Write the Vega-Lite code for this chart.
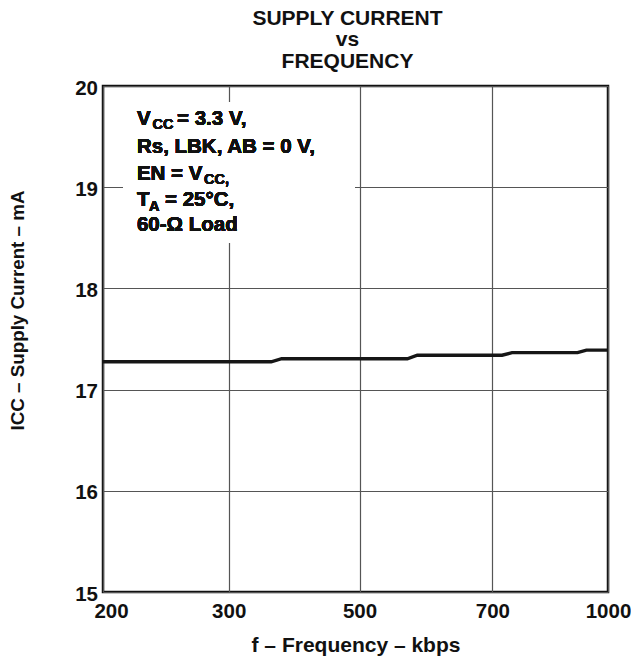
{
  "$schema": "https://vega.github.io/schema/vega-lite/v6.json",
  "autosize": "none",
  "width": 505,
  "height": 506,
  "padding": {"left": 103, "top": 86, "right": 23, "bottom": 68},
  "background": "white",
  "config": {
    "font": "Liberation Sans",
    "view": {"stroke": "#111111", "strokeWidth": 2.5},
    "axis": {"labelFont": "Liberation Sans", "titleFont": "Liberation Sans"}
  },
  "title": {
    "text": ["SUPPLY CURRENT", "vs", "FREQUENCY"],
    "font": "Liberation Sans",
    "fontSize": 21,
    "fontWeight": "bold",
    "color": "#111111",
    "lineHeight": 21.7,
    "anchor": "middle",
    "frame": "group",
    "offset": 6,
    "dx": -8
  },
  "data": {
    "values": [
      {"f": 200, "icc": 17.275},
      {"f": 365, "icc": 17.275},
      {"f": 381, "icc": 17.305},
      {"f": 572, "icc": 17.305},
      {"f": 587, "icc": 17.34},
      {"f": 725, "icc": 17.34},
      {"f": 751, "icc": 17.365},
      {"f": 921, "icc": 17.365},
      {"f": 944, "icc": 17.39},
      {"f": 1000, "icc": 17.39}
    ]
  },
  "encoding": {
    "x": {
      "field": "f",
      "type": "quantitative",
      "scale": {"domain": [200, 300, 500, 700, 1000], "range": [0, 125.7, 256.5, 389.4, 505], "clamp": true},
      "axis": {
        "values": [200, 300, 500, 700, 1000],
        "format": "d",
        "title": "f – Frequency – kbps",
        "titleFontSize": 21,
        "titleFontWeight": "bold",
        "titleColor": "#111111",
        "titleBaseline": "alphabetic",
        "titleY": 59,
        "labelFontSize": 20.5,
        "labelFontWeight": "bold",
        "labelColor": "#111111",
        "labelPadding": 9,
        "labelOffset": {"condition": {"test": "datum.value == 200", "value": 8}, "value": 0},
        "labelFlush": false,
        "labelOverlap": false,
        "labelBound": false,
        "ticks": false,
        "domain": false,
        "grid": true,
        "gridColor": "#555555",
        "gridWidth": 1.2,
        "gridOpacity": 1
      }
    },
    "y": {
      "field": "icc",
      "type": "quantitative",
      "scale": {"domain": [15, 20], "nice": false, "zero": false},
      "axis": {
        "values": [15, 16, 17, 18, 19, 20],
        "title": "ICC – Supply Current – mA",
        "titleFontSize": 18.8,
        "titleFontWeight": "bold",
        "titleColor": "#111111",
        "titleAngle": -90,
        "titleBaseline": "middle",
        "titleAlign": "center",
        "titleX": -86,
        "titleY": 224,
        "labelFontSize": 20.5,
        "labelFontWeight": "bold",
        "labelColor": "#111111",
        "labelPadding": 5.5,
        "labelBaseline": "middle",
        "labelOffset": 2,
        "labelFlush": false,
        "ticks": false,
        "domain": false,
        "grid": true,
        "gridColor": "#555555",
        "gridWidth": 1.2,
        "gridOpacity": 1
      }
    }
  },
  "layer": [
    {
      "mark": {"type": "rect", "color": "white"},
      "encoding": {
        "x": {"datum": 216},
        "x2": {"datum": 493},
        "y": {"datum": 19.837},
        "y2": {"datum": 18.452}
      }
    },
    {
      "mark": {"type": "line", "color": "#161616", "strokeWidth": 3.4, "strokeJoin": "miter"}
    },
    {
      "mark": {"type": "text", "text": "V", "align": "left", "baseline": "alphabetic", "fontSize": 20.5, "fontWeight": "bold", "color": "#111111"},
      "encoding": {"x": {"datum": 227}, "y": {"datum": 19.619}}
    },
    {
      "mark": {"type": "text", "text": "CC", "align": "left", "baseline": "alphabetic", "fontSize": 14.5, "fontWeight": "bold", "color": "#111111"},
      "encoding": {"x": {"datum": 239.4}, "y": {"datum": 19.575}}
    },
    {
      "mark": {"type": "text", "text": "= 3.3 V,", "align": "left", "baseline": "alphabetic", "fontSize": 20.5, "fontWeight": "bold", "color": "#111111"},
      "encoding": {"x": {"datum": 258.9}, "y": {"datum": 19.619}}
    },
    {
      "mark": {"type": "text", "text": "Rs, LBK, AB = 0 V,", "align": "left", "baseline": "alphabetic", "fontSize": 20.5, "fontWeight": "bold", "color": "#111111"},
      "encoding": {"x": {"datum": 227}, "y": {"datum": 19.342}}
    },
    {
      "mark": {"type": "text", "text": "EN = V", "align": "left", "baseline": "alphabetic", "fontSize": 20.5, "fontWeight": "bold", "color": "#111111"},
      "encoding": {"x": {"datum": 227}, "y": {"datum": 19.075}}
    },
    {
      "mark": {"type": "text", "text": "CC,", "align": "left", "baseline": "alphabetic", "fontSize": 14.5, "fontWeight": "bold", "color": "#111111"},
      "encoding": {"x": {"datum": 280.4}, "y": {"datum": 19.031}}
    },
    {
      "mark": {"type": "text", "text": "T", "align": "left", "baseline": "alphabetic", "fontSize": 20.5, "fontWeight": "bold", "color": "#111111"},
      "encoding": {"x": {"datum": 227}, "y": {"datum": 18.811}}
    },
    {
      "mark": {"type": "text", "text": "A", "align": "left", "baseline": "alphabetic", "fontSize": 14.5, "fontWeight": "bold", "color": "#111111"},
      "encoding": {"x": {"datum": 236.6}, "y": {"datum": 18.769}}
    },
    {
      "mark": {"type": "text", "text": "= 25°C,", "align": "left", "baseline": "alphabetic", "fontSize": 20.5, "fontWeight": "bold", "color": "#111111"},
      "encoding": {"x": {"datum": 249.3}, "y": {"datum": 18.811}}
    },
    {
      "mark": {"type": "text", "text": "60-Ω Load", "align": "left", "baseline": "alphabetic", "fontSize": 20.5, "fontWeight": "bold", "color": "#111111"},
      "encoding": {"x": {"datum": 227}, "y": {"datum": 18.564}}
    }
  ]
}
